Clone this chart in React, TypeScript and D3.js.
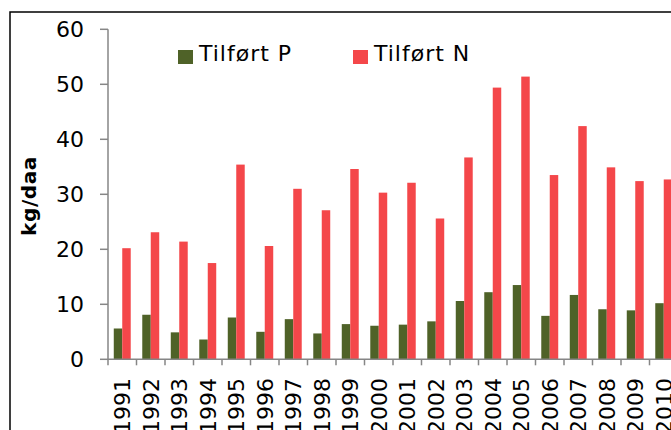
import React from "react";
import * as d3 from "d3";

const years = [
  "1991", "1992", "1993", "1994", "1995", "1996", "1997", "1998", "1999", "2000",
  "2001", "2002", "2003", "2004", "2005", "2006", "2007", "2008", "2009", "2010",
];
const tilfortP = [
  5.6, 8.1, 4.9, 3.6, 7.6, 5.0, 7.3, 4.7, 6.4, 6.1,
  6.3, 6.9, 10.6, 12.2, 13.5, 7.9, 11.7, 9.1, 8.9, 10.2,
];
const tilfortN = [
  20.2, 23.1, 21.4, 17.5, 35.4, 20.6, 31.0, 27.1, 34.6, 30.3,
  32.1, 25.6, 36.7, 49.4, 51.4, 33.5, 42.4, 34.9, 32.4, 32.7,
];
const yTicks = [0, 10, 20, 30, 40, 50, 60];
const seriesNames = ["Tilført P", "Tilført N"];
const colors = ["#4F6228", "#F4474A"];

const W = 671;
const H = 430;
const FONT = "'DejaVu Sans', Verdana, sans-serif";

export default function App() {
  const x = d3.scaleBand<string>().domain(years).range([108, 678]).padding(0);
  const sub = d3
    .scaleBand<number>()
    .domain([0, 1])
    .range([0, x.bandwidth()])
    .paddingInner(0)
    .paddingOuter(0.68);
  const y = d3.scaleLinear().domain([0, 60]).range([359.3, 29.3]);
  const series = [tilfortP, tilfortN];
  const axisColor = "#868686";

  return (
    <svg
      width={W}
      height={H}
      style={{ position: "absolute", left: 0, top: 0, background: "#fff" }}
      fontFamily={FONT}
    >
      {/* ramme */}
      <rect x={10} y={12} width={W} height={H} fill="none" stroke="#000" strokeWidth={1.5} />

      {/* stolper */}
      {series.map((vals, si) =>
        vals.map((v, i) => (
          <rect
            key={`${si}-${i}`}
            x={(x(years[i]) ?? 0) + (sub(si) ?? 0)}
            y={y(v)}
            width={sub.bandwidth()}
            height={y(0) - y(v)}
            fill={colors[si]}
          />
        ))
      )}

      {/* y-akse */}
      <line x1={108} x2={108} y1={y(60)} y2={y(0)} stroke={axisColor} strokeWidth={1.5} />
      {yTicks.map((t) => (
        <g key={t}>
          <line x1={100} x2={108} y1={y(t)} y2={y(t)} stroke={axisColor} strokeWidth={1.5} />
          <text
            x={84}
            y={y(t)}
            dy="0.37em"
            textAnchor="end"
            fontSize={22}
            fill="#000"
          >
            {t}
          </text>
        </g>
      ))}
      <text
        transform={`translate(36,196) rotate(-90)`}
        textAnchor="middle"
        fontSize={20}
        fontWeight="bold"
        letterSpacing={0.6}
        fill="#000"
      >
        kg/daa
      </text>

      {/* x-akse */}
      <line x1={108} x2={W} y1={y(0)} y2={y(0)} stroke={axisColor} strokeWidth={1.5} />
      {years.map((yr) => (
        <line
          key={yr}
          x1={x(yr) ?? 0}
          x2={x(yr) ?? 0}
          y1={y(0)}
          y2={y(0) + 6}
          stroke={axisColor}
          strokeWidth={1.5}
        />
      ))}
      {years.map((yr) => (
        <text
          key={yr}
          transform={`translate(${(x(yr) ?? 0) + x.bandwidth() / 2 + 8},378) rotate(-90)`}
          textAnchor="end"
          fontSize={22}
          fill="#000"
        >
          {yr}
        </text>
      ))}

      {/* forklaring */}
      {seriesNames.map((name, i) => {
        const lx = i === 0 ? 178 : 353;
        return (
          <g key={name}>
            <rect x={lx} y={50} width={15} height={14} fill={colors[i]} />
            <text x={lx + 21} y={61} fontSize={22} letterSpacing={1} fill="#000">
              {name}
            </text>
          </g>
        );
      })}
    </svg>
  );
}
